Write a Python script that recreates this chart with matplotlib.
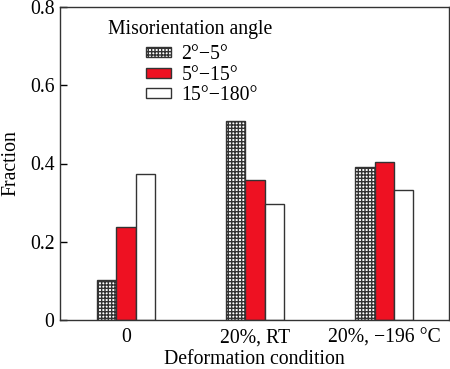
import matplotlib
matplotlib.use("Agg")
import matplotlib.pyplot as plt
import numpy as np

categories = ["0", "20%, RT", "20%, \u2212196 \u00b0C"]
series_labels = ["2\u00b0\u22125\u00b0", "5\u00b0\u221215\u00b0", "15\u00b0\u2212180\u00b0"]
low = [0.101, 0.508, 0.390]
mid = [0.237, 0.358, 0.405]
high = [0.373, 0.296, 0.332]
yticks = [0, 0.2, 0.4, 0.6, 0.8]
ytick_labels = ["0", "0.2", "0.4", "0.6", "0.8"]

serif = ['Liberation Serif', 'DejaVu Serif']
plt.rcParams['font.family'] = serif
plt.rcParams['hatch.color'] = '#555555'
plt.rcParams['hatch.linewidth'] = 1.0
FS = 14.2

fig = plt.figure(figsize=(4.5, 3.69), dpi=100)
ax = fig.add_axes([60/450, 49/369, 389/450, 313/369])

x = np.arange(len(categories))
w = 0.15
ax.bar(x - w, low, w, facecolor='white', edgecolor='#333333', hatch='+++++', linewidth=1.0, label=series_labels[0])
ax.bar(x, mid, w, facecolor='#ee1122', edgecolor='#333333', linewidth=1.0, label=series_labels[1])
ax.bar(x + w, high, w, facecolor='white', edgecolor='#333333', linewidth=1.0, label=series_labels[2])

ax.set_xlim(-0.51, 2.5)
ax.set_ylim(0, 0.8)
ax.set_yticks(yticks)
ax.set_yticklabels(ytick_labels)
ax.set_xticks(x)
ax.set_xticklabels(categories)
ax.tick_params(axis='y', direction='in', length=5, labelsize=FS, pad=4, width=1)
ax.tick_params(axis='x', length=0, labelsize=FS, pad=6)
for s in ax.spines.values():
    s.set_color('#333333')
    s.set_linewidth(1.0)

fig.text((60 + 449) / 2 / 450, 1 - 364/369, "Deformation condition", fontsize=FS, ha='center', va='baseline')
ax.set_ylabel("Fraction", fontsize=FS, labelpad=7)

fig.text(108/450, 1 - 34/369, "Misorientation angle", fontsize=FS, ha='left', va='baseline')
leg = ax.legend(loc='upper left', bbox_to_anchor=(146/450, 1 - 45/369), bbox_transform=fig.transFigure,
                frameon=False, fontsize=FS, handlelength=1.25, handleheight=0.4,
                handletextpad=0.55, labelspacing=0.08, borderaxespad=0.0, borderpad=0.0)

fig.savefig("out.png", dpi=100)
